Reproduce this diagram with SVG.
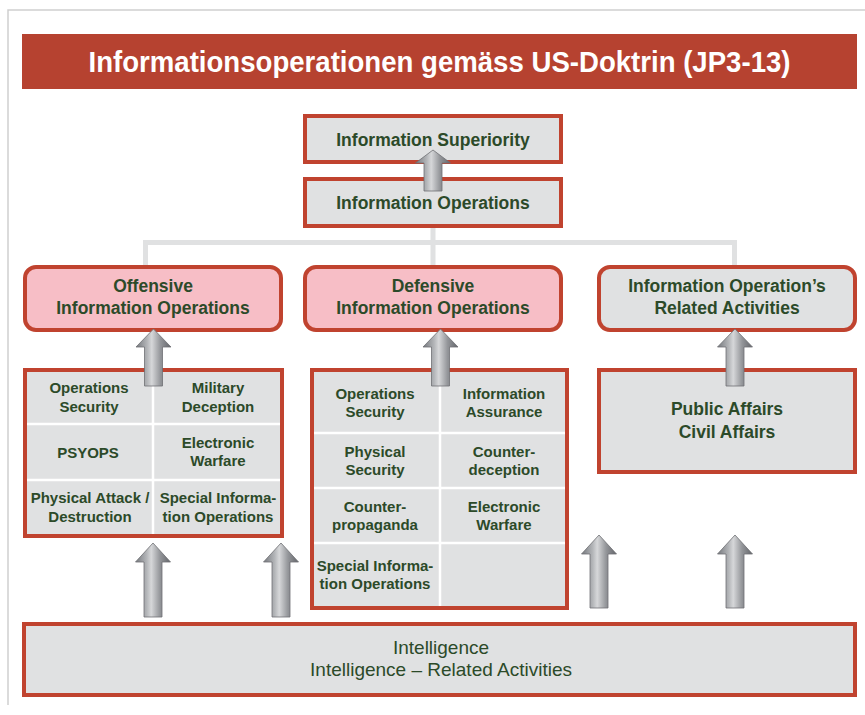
<svg xmlns="http://www.w3.org/2000/svg" width="865" height="715" viewBox="0 0 865 715">
  <defs>
    <linearGradient id="arrowFill" x1="0" y1="0" x2="1" y2="0">
      <stop offset="0" stop-color="#75787d"/>
      <stop offset="0.32" stop-color="#b4b6b9"/>
      <stop offset="0.45" stop-color="#d6d7d9"/>
      <stop offset="0.7" stop-color="#94969a"/>
      <stop offset="1" stop-color="#63656a"/>
    </linearGradient>
    <style>
      .frame { stroke: #cfcfcf; stroke-width: 1.5; fill: none; }
      .box { fill: #e0e1e2; stroke: #c0432f; stroke-width: 4; }
      .hdr { fill: #f7bec6; stroke: #c0432f; stroke-width: 4; }
      .hdr-g { fill: #e0e1e2; stroke: #c0432f; stroke-width: 4; }
      .cell { stroke: #ffffff; stroke-width: 2.5; }
      .link { stroke: #e0e1e2; stroke-width: 5; fill: none; }
      .arrow { fill: url(#arrowFill); stroke: #6e7074; stroke-width: 0.8; }
      .t { font-family: "Liberation Sans", Arial, sans-serif; font-weight: bold; fill: #2c4a29; text-anchor: middle; }
      .t15 { font-size: 15px; }
      .t17 { font-size: 17.5px; }
      .t19 { font-family: "Liberation Sans", Arial, sans-serif; font-size: 19px; fill: #2c4a29; text-anchor: middle; }
      .title { font-family: "Liberation Sans", Arial, sans-serif; font-weight: bold; font-size: 29px; fill: #ffffff; text-anchor: middle; }
    </style>
  </defs>

  <rect width="865" height="715" fill="#ffffff"/>
  <path class="frame" d="M8,705 V10 H865"/>

  <!-- Title banner -->
  <g id="title">
    <rect x="22" y="34" width="835" height="55" fill="#b64230"/>
    <text class="title" x="439.5" y="72" textLength="702" lengthAdjust="spacingAndGlyphs">Informationsoperationen gemäss US-Doktrin (JP3-13)</text>
  </g>

  <!-- Tree lines from Information Operations to the three branches -->
  <g id="connectors">
    <path class="link" d="M433,228 V267 M145.5,242.5 H734.5 M145.5,240 V267 M734.5,240 V267"/>
  </g>

  <g id="info-superiority">
    <rect class="box" x="305" y="116" width="256" height="46"/>
    <text class="t t17" x="433" y="146">Information Superiority</text>
  </g>

  <g id="info-operations">
    <rect class="box" x="305" y="179" width="256" height="47"/>
    <text class="t t17" x="433" y="209">Information Operations</text>
  </g>

  <g id="offensive">
    <rect class="hdr" x="25" y="267" width="256" height="63" rx="11"/>
    <text class="t t17" x="153" y="292">Offensive<tspan x="153" y="314">Information Operations</tspan></text>
  </g>

  <g id="defensive">
    <rect class="hdr" x="305" y="267" width="256" height="63" rx="11"/>
    <text class="t t17" x="433" y="292">Defensive<tspan x="433" y="314">Information Operations</tspan></text>
  </g>

  <g id="related">
    <rect class="hdr-g" x="599" y="267" width="256" height="63" rx="11"/>
    <text class="t t17" x="727" y="292">Information Operation’s<tspan x="727" y="314">Related Activities</tspan></text>
  </g>

  <!-- Offensive capabilities grid -->
  <g id="offensive-grid">
    <rect class="box" x="25" y="370" width="257" height="166"/>
    <path class="cell" d="M153,372 V534 M27,424 H280 M27,480 H280"/>
    <text class="t t15" x="89" y="393">Operations<tspan x="89" y="412">Security</tspan></text>
    <text class="t t15" x="218" y="393">Military<tspan x="218" y="412">Deception</tspan></text>
    <text class="t t15" x="88" y="458">PSYOPS</text>
    <text class="t t15" x="218" y="448">Electronic<tspan x="218" y="466">Warfare</tspan></text>
    <text class="t t15" x="90" y="503">Physical Attack /<tspan x="90" y="522">Destruction</tspan></text>
    <text class="t t15" x="218" y="503">Special Informa-<tspan x="218" y="522">tion Operations</tspan></text>
  </g>

  <!-- Defensive capabilities grid -->
  <g id="defensive-grid">
    <rect class="box" x="312" y="370" width="255" height="238"/>
    <path class="cell" d="M440,372 V606 M314,433 H565 M314,488 H565 M314,543 H565"/>
    <text class="t t15" x="375" y="399">Operations<tspan x="375" y="417">Security</tspan></text>
    <text class="t t15" x="504" y="399">Information<tspan x="504" y="417">Assurance</tspan></text>
    <text class="t t15" x="375" y="457">Physical<tspan x="375" y="475">Security</tspan></text>
    <text class="t t15" x="504" y="457">Counter-<tspan x="504" y="475">deception</tspan></text>
    <text class="t t15" x="375" y="512">Counter-<tspan x="375" y="530">propaganda</tspan></text>
    <text class="t t15" x="504" y="512">Electronic<tspan x="504" y="530">Warfare</tspan></text>
    <text class="t t15" x="375" y="571">Special Informa-<tspan x="375" y="589">tion Operations</tspan></text>
  </g>

  <g id="public-affairs">
    <rect class="box" x="599" y="370" width="256" height="102"/>
    <text class="t t17" x="727" y="415">Public Affairs<tspan x="727" y="438">Civil Affairs</tspan></text>
  </g>

  <g id="intelligence">
    <rect class="box" x="24" y="624" width="831" height="71"/>
    <text class="t19" x="441" y="654">Intelligence<tspan x="441" y="676">Intelligence – Related Activities</tspan></text>
  </g>

  <!-- Upward block arrows -->
  <g id="arrows">
    <path class="arrow" d="M433,150 L450.5,163 L442,163 L442,191 L424,191 L424,163 L415.5,163 Z"/>
    <path class="arrow" d="M153.5,329 L171,347 L162.5,347 L162.5,386 L144.5,386 L144.5,347 L136,347 Z"/>
    <path class="arrow" d="M440.5,329 L458,347 L449.5,347 L449.5,386 L431.5,386 L431.5,347 L423,347 Z"/>
    <path class="arrow" d="M735,329 L752.5,347 L744,347 L744,386 L726,386 L726,347 L717.5,347 Z"/>
    <path class="arrow" d="M153,543 L170.5,562 L162,562 L162,617 L144,617 L144,562 L135.5,562 Z"/>
    <path class="arrow" d="M281,543 L298.5,562 L290,562 L290,617 L272,617 L272,562 L263.5,562 Z"/>
    <path class="arrow" d="M599,535 L616.5,554 L608,554 L608,608 L590,608 L590,554 L581.5,554 Z"/>
    <path class="arrow" d="M735,535 L752.5,554 L744,554 L744,608 L726,608 L726,554 L717.5,554 Z"/>
  </g>
</svg>
